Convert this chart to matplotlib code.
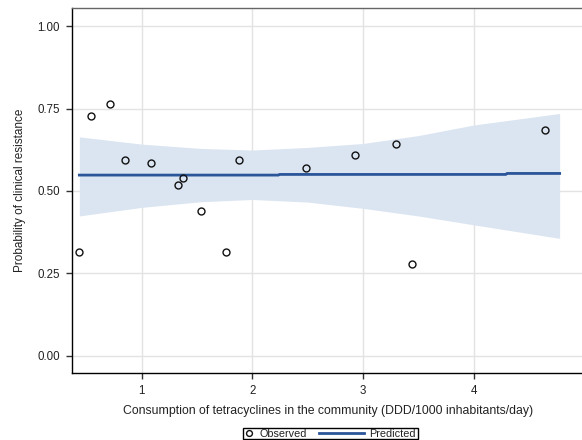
import matplotlib
matplotlib.use("Agg")
import matplotlib.pyplot as plt
from matplotlib.lines import Line2D
from matplotlib.patches import Rectangle

plt.rcParams['font.family'] = ['Liberation Sans', 'DejaVu Sans']

# Observed data
obs_x = [0.436, 0.542, 0.714, 0.849, 1.084, 1.331, 1.373, 1.533, 1.762, 1.880,
         2.488, 2.931, 3.293, 3.446, 4.640]
obs_y = [0.314, 0.726, 0.763, 0.595, 0.584, 0.518, 0.538, 0.439, 0.316, 0.593,
         0.569, 0.609, 0.643, 0.277, 0.684]

# Predicted line
pred_x = [0.436, 2.235, 2.245, 4.29, 4.30, 4.776]
pred_y = [0.548, 0.548, 0.550, 0.550, 0.553, 0.553]

# Confidence band
band_x = [0.436, 1.0, 1.53, 2.0, 2.5, 3.0, 3.5, 4.0, 4.776]
band_upper = [0.664, 0.642, 0.629, 0.624, 0.632, 0.644, 0.668, 0.700, 0.735]
band_lower = [0.424, 0.450, 0.467, 0.474, 0.466, 0.447, 0.424, 0.397, 0.356]

x_ticks = [1, 2, 3, 4, 5]
y_ticks = [0.00, 0.25, 0.50, 0.75, 1.00]
y_ticklabels = ["0.00", "0.25", "0.50", "0.75", "1.00"]
legend_labels = ["Observed", "Predicted"]

W, H = 582, 440
fig = plt.figure(figsize=(W / 100, H / 100), dpi=100)
ax = fig.add_axes([0.1232, 0.1523, 0.881, 0.8295])

ax.fill_between(band_x, band_lower, band_upper, color='#dbe5f1', linewidth=0, zorder=1)
ax.plot(pred_x, pred_y, color='#2a5599', linewidth=2.0, zorder=3)
ax.plot(obs_x, obs_y, linestyle='none', marker='o', markersize=5,
        markerfacecolor='none', markeredgecolor='#111111', markeredgewidth=1.0, zorder=4)

ax.set_xlim(0.367, 5.0)
ax.set_ylim(-0.0525, 1.055)
ax.set_xticks(x_ticks)
ax.set_yticks(y_ticks)
ax.set_yticklabels(y_ticklabels)
ax.grid(True, color='#e3e3e3', linewidth=1.0, zorder=0)
ax.set_axisbelow(True)

for s in ['left', 'bottom']:
    ax.spines[s].set_color('black')
    ax.spines[s].set_linewidth(1.0)
ax.spines['top'].set_color('#666666')
ax.spines['top'].set_linewidth(1.0)
ax.spines['right'].set_visible(False)

ax.tick_params(axis='both', direction='out', length=4.5, width=1, color='#333333',
               labelsize=8.3, labelcolor='#222222')
ax.tick_params(axis='x', pad=4)
ax.tick_params(axis='y', pad=4)

ax.set_xlabel("Consumption of tetracyclines in the community (DDD/1000 inhabitants/day)",
              fontsize=8.8, color='#222222', labelpad=6)
ax.set_ylabel("Probability of clinical resistance", fontsize=8.5, color='#222222', labelpad=8)

# Manual legend (compact box below the axes)
def fx(px):
    return px / W

def fy(py):
    return 1 - py / H

box = Rectangle((fx(243), fy(439)), fx(418) - fx(243), fy(428) - fy(439),
                transform=fig.transFigure, facecolor='white', edgecolor='black',
                linewidth=1.0)
fig.add_artist(box)
fig.add_artist(Line2D([fx(249)], [fy(433)], transform=fig.transFigure, linestyle='none',
                      marker='o', markersize=4.2, markerfacecolor='none',
                      markeredgecolor='#111111', markeredgewidth=1.0))
fig.text(fx(259), fy(437), legend_labels[0], fontsize=7.8, color='#222222',
         ha='left', va='baseline')
fig.add_artist(Line2D([fx(319), fx(364)], [fy(432.7), fy(432.7)], transform=fig.transFigure,
                      color='#2a5599', linewidth=2.0))
fig.text(fx(369), fy(437), legend_labels[1], fontsize=7.8, color='#222222',
         ha='left', va='baseline')

fig.savefig("out.png", dpi=100)
